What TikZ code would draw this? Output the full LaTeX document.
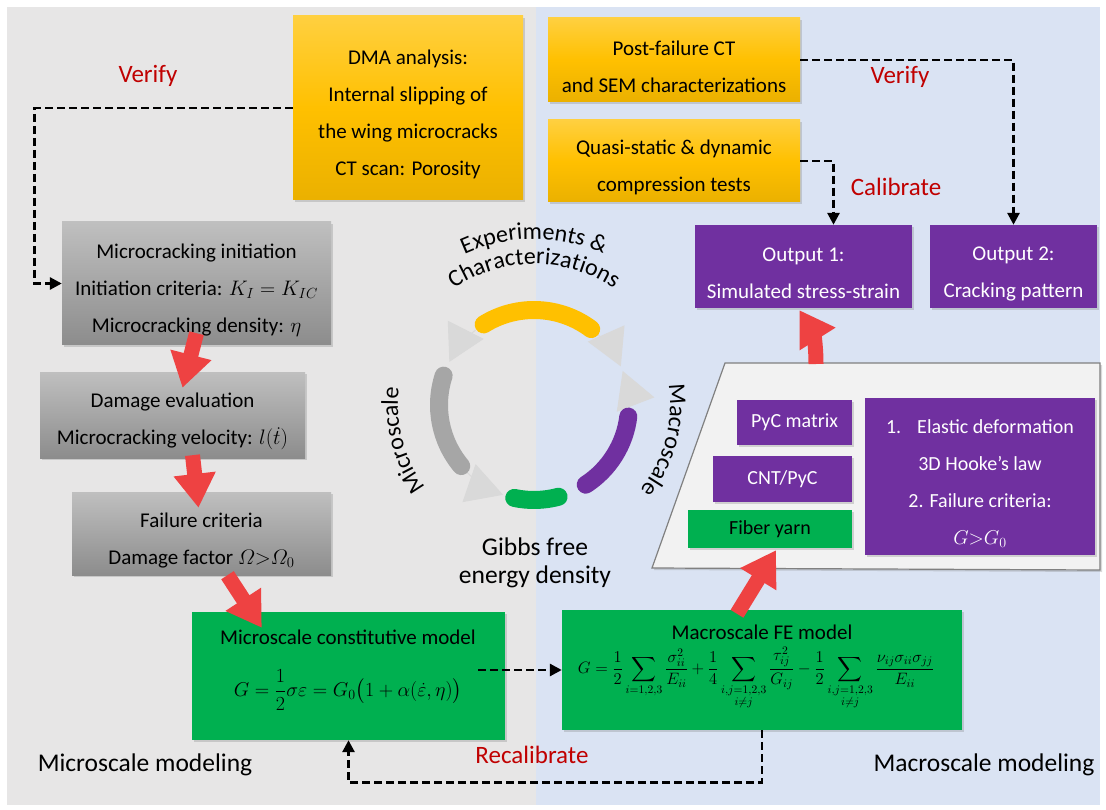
\RequirePackage{fix-cm}
\documentclass[tikz,border=0pt]{standalone}
\usepackage{amsmath}
\usepackage{fontspec}
\setmainfont{Carlito}
\usetikzlibrary{arrows.meta,shadows,decorations.text,calc}
\definecolor{bggray}{HTML}{E7E6E6}
\definecolor{bgblue}{HTML}{DAE3F3}
\definecolor{gold}{HTML}{FFC000}
\definecolor{plum}{HTML}{7030A0}
\definecolor{leaf}{HTML}{00B050}
\definecolor{ash}{HTML}{A6A6A6}
\definecolor{mist}{HTML}{D9D9D9}
\definecolor{alert}{HTML}{C00000}
\definecolor{flame}{HTML}{EE4242}
\definecolor{paper}{HTML}{F2F2F2}
\newcommand\cyclefont{\fontsize{24}{30}\selectfont}
\newcommand\padline{\rule{0pt}{28pt}}
\tikzset{
  base/.style={inner sep=0pt, align=center, font=\fontsize{21}{37}\selectfont,
    drop shadow={opacity=.3, shadow xshift=2pt, shadow yshift=-2pt}},
  yellowbox/.style={base, top color=gold!75!white, bottom color=gold!92!black, middle color=gold},
  graybox/.style={base, top color=black!25, bottom color=black!45},
  purplebox/.style={base, fill=plum, text=white},
  greenbox/.style={base, fill=leaf},
  frame/.style={fill=paper, draw=black!50, line width=1.2pt,
    drop shadow={opacity=.3, shadow xshift=2pt, shadow yshift=-2pt}},
  link/.style={line width=2.8pt, dash pattern=on 8pt off 4pt,
    -{Triangle[width=12pt,length=12pt]}},
  bigarrow/.style={flame, line width=15pt, -{Triangle[width=40pt,length=34pt]}},
  note/.style={alert, font=\fontsize{25}{25}\selectfont},
  title/.style={font=\fontsize{25.5}{25.5}\selectfont},
  arcpiece/.style={line width=18pt, line cap=round},
  tip/.style={mist, line width=1pt, -{Triangle[width=40pt,length=36pt]}},
  bend text/.style={decorate, decoration={text along path, text align=center, text={|\cyclefont|#1}}}
}
\begin{document}
\begin{tikzpicture}[x=1pt,y=-1pt]
\useasboundingbox (0,0) rectangle (1106,810);
\fill[bggray] (7,7) rectangle (536,805);
\fill[bgblue] (536,7) rectangle (1100,805);

% experiments
\node[yellowbox, minimum width=230, minimum height=184] (dma) at (408,108)
  {\padline DMA analysis:\\Internal slipping of\\the wing microcracks\\CT scan: Porosity};
\node[yellowbox, minimum width=252, minimum height=84] (post) at (674,60)
  {\padline Post-failure CT\\and SEM characterizations};
\node[yellowbox, minimum width=252, minimum height=82] (quasi) at (674,161)
  {\padline Quasi-static \& dynamic\\compression tests};
\node[purplebox, minimum width=217, minimum height=83] (out1) at (803.5,266.5)
  {\padline Output 1:\\Simulated stress-strain};
\node[purplebox, minimum width=167, minimum height=83] (out2) at (1013.5,266.5)
  {\padline Output 2:\\Cracking pattern};

% microscale
\node[graybox, minimum width=269, minimum height=123] (init) at (196.5,283.5)
  {\padline Microcracking initiation\\Initiation criteria: $K_I=K_{IC}$\\Microcracking density: $\eta$};
\node[graybox, minimum width=265, minimum height=86] (dmg) at (172.5,415)
  {\padline Damage evaluation\\Microcracking velocity: $l(\dot{t})$};
\node[graybox, minimum width=259, minimum height=83] (fail) at (201.5,533.5)
  {\padline Failure criteria\\Damage factor $\varOmega{>}\varOmega_0$};
\node[greenbox, minimum width=313, minimum height=128] (micro) at (348.5,676) {};
\node[font=\fontsize{21}{24}\selectfont] (microtitle) at (348,637) {Microscale constitutive model};
\node[font=\fontsize{20}{24}\selectfont] (microeq) at (348,690)
  {$\displaystyle G=\frac{1}{2}\sigma\varepsilon=G_0\bigl(1+\alpha(\dot{\varepsilon},\eta)\bigr)$};

% macroscale
\node[greenbox, minimum width=400, minimum height=120] (macro) at (762,670) {};
\node[font=\fontsize{21}{24}\selectfont] (macrotitle) at (762,632) {Macroscale FE model};
\node[font=\fontsize{16.5}{20}\selectfont] (macroeq) at (756,678)
  {$\displaystyle G=\frac{1}{2}\sum\limits_{i=1,2,3}\frac{\sigma_{ii}^2}{E_{ii}}
   +\frac{1}{4}\sum\limits_{\substack{i,j=1,2,3\\ i\neq j}}\frac{\tau_{ij}^2}{G_{ij}}
   -\frac{1}{2}\sum\limits_{\substack{i,j=1,2,3\\ i\neq j}}\frac{\nu_{ij}\sigma_{ii}\sigma_{jj}}{E_{ii}}$};
\draw[frame] (725,363) -- (1100,363) -- (1100,570) -- (652,568) -- cycle;
\node[purplebox, font=\fontsize{20}{37}\selectfont, minimum width=115, minimum height=45] (pyc) at (794.5,422.5) {PyC matrix};
\node[purplebox, font=\fontsize{20}{37}\selectfont, minimum width=139, minimum height=46] (cnt) at (782.5,479) {CNT/PyC};
\node[greenbox, font=\fontsize{20}{37}\selectfont, minimum width=164, minimum height=38] (yarn) at (770,529) {Fiber yarn};
\node[purplebox, font=\fontsize{20}{37}\selectfont, minimum width=230, minimum height=157] (crit) at (980,476.5)
  {\padline 1.\hspace{16pt}Elastic deformation\\3D Hooke’s law\\2. Failure criteria:\\$G{>}G_0$};

% cycle
\coordinate (hub) at (534,405);
\foreach \a/\b in {-128/-153, -50/-24, -225/-251, -358/-381}
  \draw[tip] ([shift={(\a:95)}]hub) arc (\a:\b:95);
\draw[arcpiece, gold] ([shift={(-53:95)}]hub) arc (-53:-122:95);
\draw[arcpiece, ash] ([shift={(-162:95)}]hub) arc (-162:-220:95);
\draw[arcpiece, leaf] ([shift={(-258:95)}]hub) arc (-258:-285:95);
\draw[arcpiece, plum] ([shift={(-303:95)}]hub) arc (-303:-353:95);
\path[bend text={Experiments {\&}}] ([shift={(-150:166)}]hub) arc (-150:-30:166);
\path[bend text={Characterizations}] ([shift={(-150:141)}]hub) arc (-150:-30:141);
\path[bend text={Microscale}] ([shift={(-240:136)}]hub) arc (-240:-150:136);
\path[bend text={Macroscale}] ([shift={(-30:136)}]hub) arc (-30:60:136);
\node[title, align=center] (gibbs) at (535,563) {Gibbs free\\[3pt]energy density};

% labels
\node[note] (verifyL) at (148,76) {Verify};
\node[note] (verifyR) at (900,77) {Verify};
\node[note] (calib) at (896,187) {Calibrate};
\node[note] (recalib) at (532,755) {Recalibrate};
\node[title] (microlab) at (145,765) {Microscale modeling};
\node[title] (macrolab) at (984,765) {Macroscale modeling};

% dashed links
\coordinate (bendL) at ([xshift=-27pt]init.west);
\draw[link] (dma.west) -| (bendL) -- (init.west);
\draw[link] (post.east) -| (out2.north);
\coordinate (bendQ) at ([xshift=30pt]out1.north);
\draw[link] (quasi.east) -| (bendQ);
\coordinate (bendM) at ([xshift=-27pt]micro.east);
\draw[link] (bendM |- macro.west) -- (macro.west);
\draw[link] (macro.south) -- ++(0,52) -| (micro.south);

% red arrows
\draw[bigarrow] ($(init.south)+(0,-12)$) -- ($(dmg.north)+(10,16)$);
\draw[bigarrow] ($(dmg.south)+(20,-3)$) -- ($(fail.north)+(-3,16)$);
\draw[bigarrow] ($(fail.south)+(26,0)$) -- ($(micro.north west)+(70,16)$);
\draw[bigarrow] ($(macro.north)+(-25,4)$) -- ($(yarn.south)+(6,2)$);
\draw[bigarrow] (816,364) .. controls (816,340) and (812,330) .. ($(out1.south)+(-4,2)$);
\end{tikzpicture}
\end{document}
